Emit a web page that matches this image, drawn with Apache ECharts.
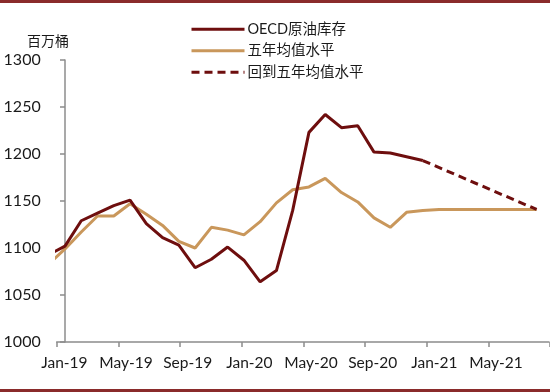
<!DOCTYPE html>
<html>
<head>
<meta charset="utf-8">
<script src="https://cdn.jsdelivr.net/npm/echarts@6/dist/echarts.min.js"></script>
<style>html,body{margin:0;padding:0;background:#fff}#c{width:550px;height:392px}</style>
</head>
<body>
<div id="c"></div>
<script>
// Data months (Dec-18 is partly clipped at the left edge of the plot)
const months = ['Dec-18','Jan-19','Feb-19','Mar-19','Apr-19','May-19','Jun-19','Jul-19','Aug-19','Sep-19','Oct-19','Nov-19','Dec-19',
  'Jan-20','Feb-20','Mar-20','Apr-20','May-20','Jun-20','Jul-20','Aug-20','Sep-20','Oct-20','Nov-20','Dec-20',
  'Jan-21','Feb-21','Mar-21','Apr-21','May-21','Jun-21'];
const oecdStock = [1093,1102,1129,1137,1145,1151,1126,1111,1103,1079,1088,1101,1087,
  1064,1076,1140,1223,1242,1228,1230,1202,1201,1197,1193,null,
  null,null,null,null,null,null];
const fiveYearAvg = [1083,1099,1117,1134,1134,1147,1136,1124,1107,1100,1122,1119,1114,
  1128,1148,1162,1165,1174,1159,1149,1132,1122,1138,1140,1141,
  1141,1141,1141,1141,1141,1141];
const backToAvg = [null,null,null,null,null,null,null,null,null,null,null,null,null,
  null,null,null,null,null,null,null,null,null,null,1193,null,
  null,null,null,null,null,1141];
// Axis tick labels (monthly bands, labelled every 4th)
const axisMonths = ['Jan-19','Feb-19','Mar-19','Apr-19','May-19','Jun-19','Jul-19','Aug-19','Sep-19','Oct-19','Nov-19','Dec-19',
  'Jan-20','Feb-20','Mar-20','Apr-20','May-20','Jun-20','Jul-20','Aug-20','Sep-20','Oct-20','Nov-20','Dec-20',
  'Jan-21','Feb-21','Mar-21','Apr-21','May-21','Jun-21','Jul-21','Aug-21'];
const seriesNames = ['OECD原油库存','五年均值水平','回到五年均值水平'];
const yUnit = '百万桶';

const RED = '#6E0E0E', TAN = '#C9975B', GRAY = '#8C8C8C';
const FONT = 'Lato, "Noto Sans CJK SC", sans-serif';
const toXY = arr => arr.map((v, i) => [i - 1, v]);

const chart = echarts.init(document.getElementById('c'), null, {renderer: 'canvas'});
chart.setOption({
  animation: false,
  backgroundColor: '#fff',
  grid: [
    {left: 56.7, top: 60, width: 492.3, height: 282},
    {left: 56.7, top: 60, width: 496, height: 282}
  ],
  xAxis: [
    {type: 'value', gridIndex: 0, min: -0.51, max: 29.76,
     axisLine: {show: true, lineStyle: {color: GRAY, width: 1.5}},
     axisTick: {show: false}, axisLabel: {show: false}, splitLine: {show: false}},
    {type: 'category', gridIndex: 1, data: axisMonths, boundaryGap: true,
     axisLine: {show: false},
     axisTick: {show: true, interval: 3, length: 5, lineStyle: {color: GRAY, width: 1.5}},
     axisLabel: {interval: 3, margin: 13, fontSize: 15.5, color: '#1a1a1a', fontFamily: FONT},
     splitLine: {show: false}}
  ],
  yAxis: [
    {type: 'value', gridIndex: 0, min: 1000, max: 1300, interval: 50,
     axisLine: {show: true, lineStyle: {color: GRAY, width: 1.5}},
     axisTick: {show: true, inside: false, length: 5, lineStyle: {color: GRAY, width: 1.5}},
     axisLabel: {margin: 16, fontSize: 16, color: '#1a1a1a', fontFamily: FONT,
                 formatter: v => String(v)},
     splitLine: {show: false}},
    {type: 'value', gridIndex: 1, min: 1000, max: 1300, show: false}
  ],
  legend: {
    orient: 'vertical', left: 185, top: 17, itemWidth: 53, itemHeight: 14, itemGap: 7,
    data: seriesNames,
    itemStyle: {opacity: 0},
    lineStyle: {width: 3},
    textStyle: {fontSize: 14.5, color: '#1a1a1a', fontFamily: FONT, padding: [0, 0, 0, -2]}
  },
  graphic: [
    {type: 'rect', left: 0, top: 0, shape: {width: 550, height: 3}, style: {fill: '#8A2B2B'}},
    {type: 'rect', left: 0, top: 389, shape: {width: 550, height: 3}, style: {fill: '#8A2B2B'}},
    {type: 'text', left: 27, top: 34, style: {text: yUnit, fontSize: 14, fill: '#1a1a1a', fontFamily: FONT}}
  ],
  series: [
    {name: seriesNames[1], type: 'line', xAxisIndex: 0, yAxisIndex: 0, data: toXY(fiveYearAvg),
     showSymbol: false, symbol: 'none', clip: true,
     lineStyle: {color: TAN, width: 3}, itemStyle: {color: TAN}, z: 2},
    {name: seriesNames[0], type: 'line', xAxisIndex: 0, yAxisIndex: 0, data: toXY(oecdStock),
     showSymbol: false, symbol: 'none', clip: true,
     lineStyle: {color: RED, width: 3}, itemStyle: {color: RED}, z: 3},
    {name: seriesNames[2], type: 'line', xAxisIndex: 0, yAxisIndex: 0, data: toXY(backToAvg),
     showSymbol: false, symbol: 'none', clip: true, connectNulls: true,
     lineStyle: {color: RED, width: 3, type: [8, 5]}, itemStyle: {color: RED}, z: 3}
  ]
});
</script>
</body>
</html>
